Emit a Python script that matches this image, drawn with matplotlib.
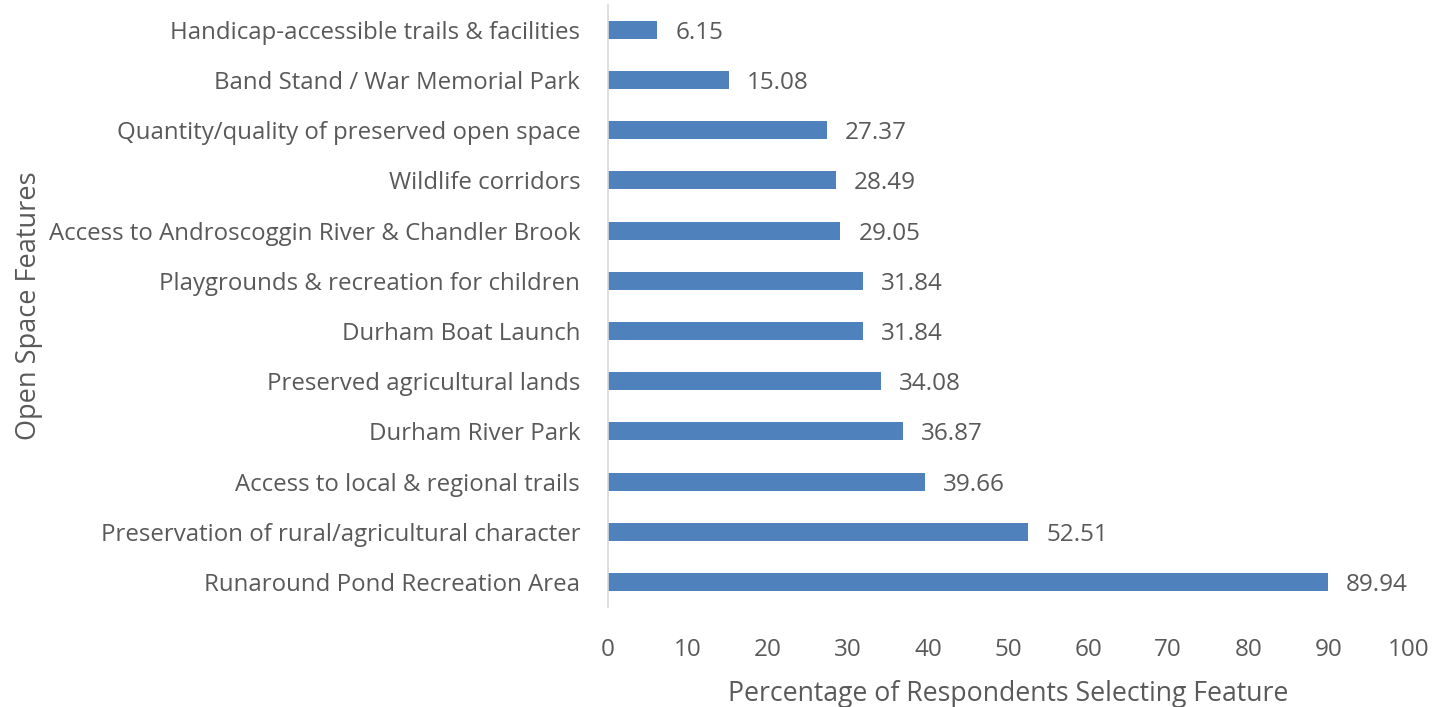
import matplotlib
matplotlib.use("Agg")
import matplotlib.pyplot as plt

categories = [
    "Handicap-accessible trails & facilities",
    "Band Stand / War Memorial Park",
    "Quantity/quality of preserved open space",
    "Wildlife corridors",
    "Access to Androscoggin River & Chandler Brook",
    "Playgrounds & recreation for children",
    "Durham Boat Launch",
    "Preserved agricultural lands",
    "Durham River Park",
    "Access to local & regional trails",
    "Preservation of rural/agricultural character",
    "Runaround Pond Recreation Area",
]
values = [6.15, 15.08, 27.37, 28.49, 29.05, 31.84, 31.84, 34.08, 36.87, 39.66, 52.51, 89.94]
xticks = [0, 10, 20, 30, 40, 50, 60, 70, 80, 90, 100]

plt.rcParams['font.family'] = ['Open Sans', 'DejaVu Sans']
txt = "#595959"
bar_color = "#4F81BD"

fig = plt.figure(figsize=(14.34, 7.07), dpi=100)
ax = fig.add_axes([0.424, 0.1414, 0.558, 0.852])

ypos = list(range(len(categories)))
ax.barh(ypos, values, height=0.36, color=bar_color)
ax.set_ylim(len(categories) - 0.5, -0.5)
ax.set_yticks(ypos)
ax.set_yticklabels(categories, fontsize=17.3, color=txt)
ax.set_xlim(0, 100)
ax.set_xticks(xticks)
ax.set_xticklabels([str(t) for t in xticks], fontsize=17.5, color=txt)
ax.tick_params(axis='both', length=0)
ax.tick_params(axis='x', pad=22)
ax.tick_params(axis='y', pad=20)

for s in ['top', 'right', 'bottom']:
    ax.spines[s].set_visible(False)
ax.spines['left'].set_color("#D9D9D9")
ax.spines['left'].set_linewidth(1.2)

for y, v in zip(ypos, values):
    ax.annotate(f"{v:.2f}", xy=(v, y), xytext=(13, 0), textcoords='offset points',
                va='center_baseline', ha='left', fontsize=17.5, color=txt)

ax.set_xlabel("Percentage of Respondents Selecting Feature", fontsize=19.2, color=txt, labelpad=13)
fig.text(0.020, 0.568, "Open Space Features", rotation=90, fontsize=19.5, color=txt,
         va='center', ha='center')

fig.savefig("out.png", dpi=100, facecolor="white")
